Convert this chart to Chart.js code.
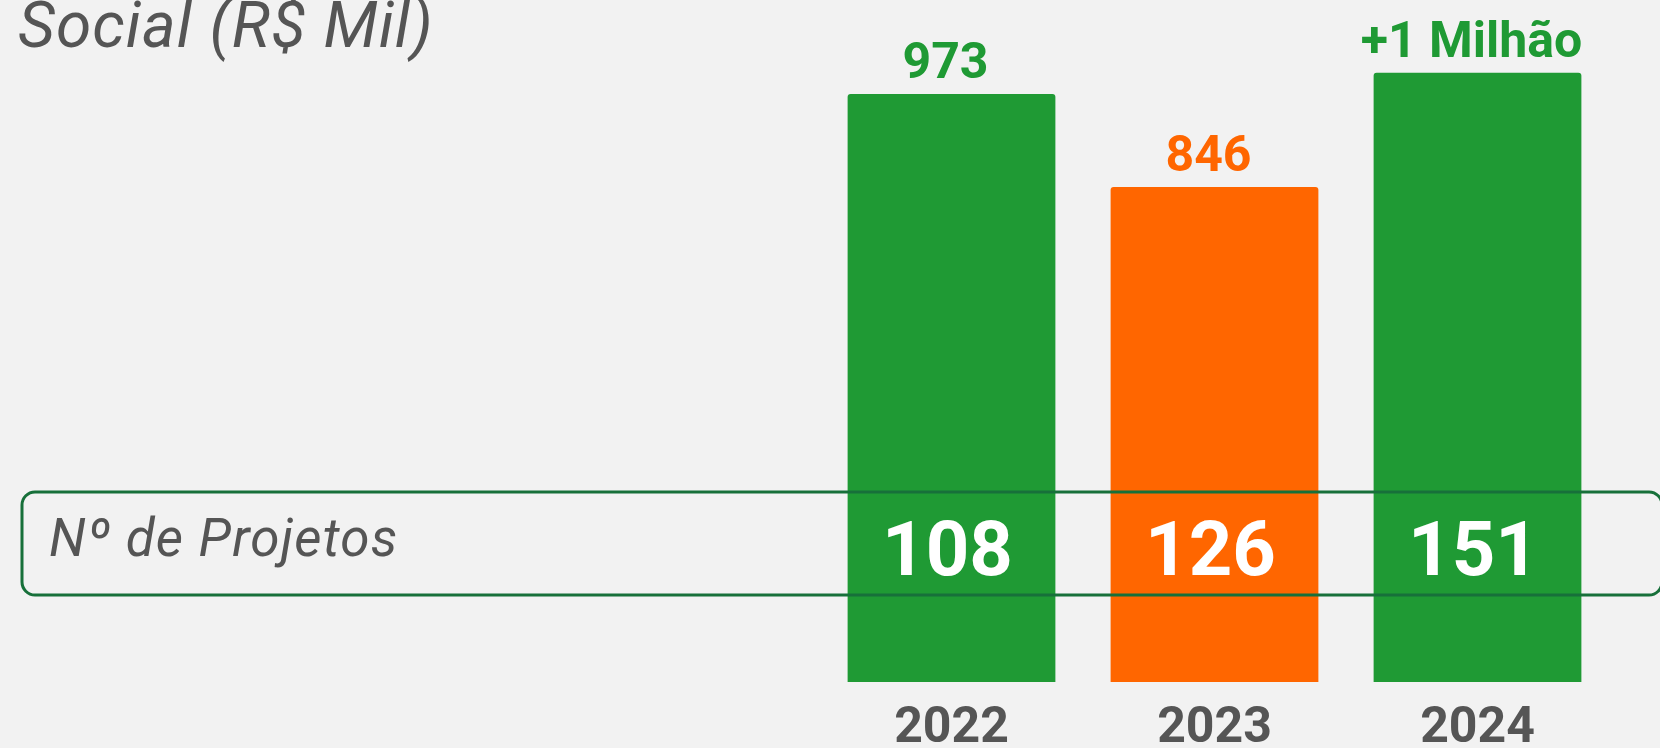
<!DOCTYPE html>
<html lang="pt">
<head>
    <meta charset="UTF-8">
    <title>Social (R$ Mil)</title>
    <style>
        body {
            margin: 0;
            padding: 0;
            background: #f2f2f2;
            overflow: hidden;
        }
        #grafico {
            display: block;
        }
    </style>
</head>
<body>
    <canvas id="grafico" width="1660" height="748"></canvas>

    <script src="https://cdn.jsdelivr.net/npm/chart.js"></script>
    <script>
        // dados
        const anos = ['2022', '2023', '2024'];
        const investimento = [973, 846, 1002];
        const rotulosInvestimento = ['973', '846', '+1 Milhão'];
        const projetos = [108, 126, 151];
        const cores = ['#1f9a34', '#ff6600', '#1f9a34'];

        const tituloGrafico = 'Social (R$ Mil)';
        const tituloProjetos = 'Nº de Projetos';

        const cinza = '#555555';
        const verdeEscuro = '#17703a';

        // textos, caixa e rótulos desenhados por cima das barras
        const textosPlugin = {
            id: 'textos',
            afterDatasetsDraw(chart) {
                const ctx = chart.ctx;
                const barras = chart.getDatasetMeta(0).data;
                ctx.save();

                // título
                ctx.fillStyle = cinza;
                ctx.font = 'italic 400 64px Roboto';
                ctx.letterSpacing = '1px';
                ctx.textAlign = 'left';
                ctx.textBaseline = 'alphabetic';
                ctx.fillText(tituloGrafico, 18, 47);

                // valores acima das barras
                ctx.letterSpacing = '0px';
                ctx.font = 'bold 50px Roboto';
                ctx.textAlign = 'center';
                barras.forEach((barra, i) => {
                    ctx.fillStyle = cores[i];
                    ctx.fillText(rotulosInvestimento[i], barra.x - 6, barra.y - 16);
                });

                // caixa do nº de projetos
                ctx.strokeStyle = verdeEscuro;
                ctx.lineWidth = 3;
                ctx.beginPath();
                ctx.roundRect(22, 492, 1640, 103, 13);
                ctx.stroke();

                ctx.fillStyle = cinza;
                ctx.font = 'italic 400 53px Roboto';
                ctx.letterSpacing = '1.2px';
                ctx.textAlign = 'left';
                ctx.fillText(tituloProjetos, 49, 556);

                ctx.letterSpacing = '0px';
                ctx.fillStyle = '#ffffff';
                ctx.font = 'bold 76px Roboto';
                ctx.textAlign = 'center';
                barras.forEach((barra, i) => {
                    ctx.fillText(String(projetos[i]), barra.x - 4, 575);
                });

                ctx.restore();
            }
        };

        const ctx = document.getElementById('grafico').getContext('2d');
        new Chart(ctx, {
            type: 'bar',
            data: {
                labels: anos,
                datasets: [{
                    data: investimento,
                    backgroundColor: cores,
                    borderRadius: 3,
                    borderSkipped: false,
                    barPercentage: 0.79,
                    categoryPercentage: 1
                }]
            },
            options: {
                responsive: false,
                animation: false,
                devicePixelRatio: 1,
                layout: {
                    padding: { left: 820, right: 51, top: 4, bottom: 0 }
                },
                plugins: {
                    legend: { display: false },
                    tooltip: { enabled: false }
                },
                scales: {
                    x: {
                        grid: { display: false, drawTicks: false },
                        border: { display: false },
                        ticks: {
                            color: cinza,
                            padding: 17,
                            font: { family: 'Roboto', size: 50, weight: 'bold' }
                        },
                        afterFit(scale) {
                            scale.height = 66;
                        }
                    },
                    y: {
                        display: false,
                        min: 170,
                        max: 1096
                    }
                }
            },
            plugins: [textosPlugin]
        });
    </script>
</body>
</html>
